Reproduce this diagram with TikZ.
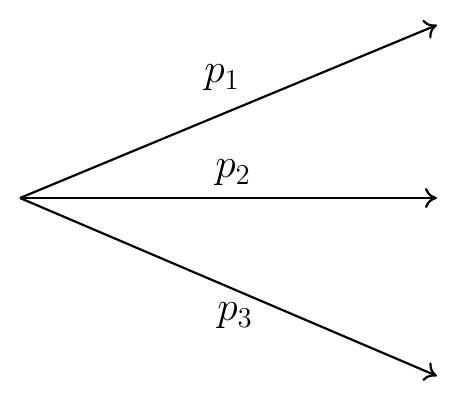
\documentclass[tikz,border=0pt]{standalone}
\usetikzlibrary{arrows.meta}
\begin{document}
\begin{tikzpicture}[x=0.5pt,y=-0.5pt,
  ray/.style={line width=1.1pt,-{To[length=6pt,width=10pt]}},
  lbl/.style={font=\huge,inner sep=0pt}]
\useasboundingbox (0,0) rectangle (456,402);
\coordinate (o) at (20,198);
\coordinate (e1) at (437,25);
\coordinate (e2) at (437,198);
\coordinate (e3) at (437,376);
\draw[ray] (o) -- (e1);
\draw[ray] (o) -- (e2);
\draw[ray] (o) -- (e3);
\node[lbl] (l1) at (222,78) {$p_1$};
\node[lbl] (l2) at (233,173) {$p_2$};
\node[lbl] (l3) at (235,316) {$p_3$};
\end{tikzpicture}
\end{document}
